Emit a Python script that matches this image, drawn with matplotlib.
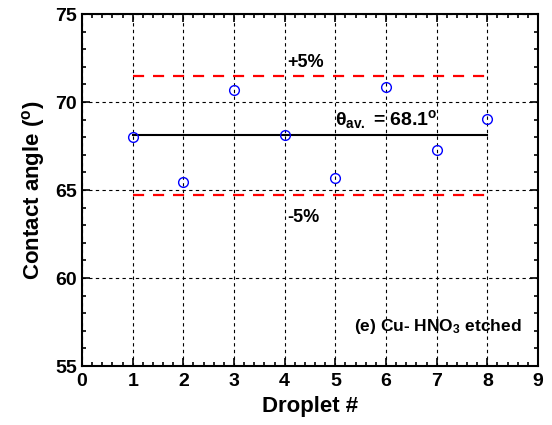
import numpy as np
import matplotlib
matplotlib.use('Agg')
import matplotlib.pyplot as plt
from matplotlib.ticker import MultipleLocator

plt.rcParams['font.family'] = ['Liberation Sans', 'DejaVu Sans']
plt.rcParams['font.weight'] = 'bold'
plt.rcParams['mathtext.fontset'] = 'custom'
plt.rcParams['mathtext.rm'] = 'Liberation Sans:bold'
plt.rcParams['mathtext.bf'] = 'Liberation Sans:bold'
plt.rcParams['mathtext.it'] = 'Liberation Sans:bold'
plt.rcParams['mathtext.default'] = 'bf'

# Contact angle per droplet
droplets = [1, 2, 3, 4, 5, 6, 7, 8]
angles = [68.0, 65.45, 70.68, 68.1, 65.7, 70.85, 67.27, 69.03]
mean_angle = 68.1
upper = 71.5
lower = 64.7

fig = plt.figure(figsize=(5.52, 4.25), dpi=100)
ax = fig.add_axes([0.1486, 0.1388, 0.8260, 0.8282])

ax.plot([1, 8], [upper, upper], color='red', lw=1.6, dashes=(5, 4))
ax.plot([1, 8], [lower, lower], color='red', lw=1.6, dashes=(5, 4))
ax.plot([1, 8], [mean_angle, mean_angle], color='black', lw=1.5)
ax.plot(droplets, angles, 'o', mfc='none', mec='blue', ms=7, mew=1.0)

ax.text(4.05, 72.0, '+5%', fontsize=13, fontweight='bold')
ax.text(4.05, 63.2, '-5%', fontsize=13, fontweight='bold')
ax.text(5.0, 68.7, r'$\theta_{av.}$ = 68.1$^{o}$', fontsize=14, fontweight='bold')
ax.text(8.68, 57.0, r'(e) Cu- HNO$_{3}$ etched', fontsize=12.5, fontweight='bold', ha='right')

ax.set_xlim(0, 9)
ax.set_ylim(55, 75)
ax.xaxis.set_major_locator(MultipleLocator(1))
ax.xaxis.set_minor_locator(MultipleLocator(0.2))
ax.yaxis.set_major_locator(MultipleLocator(5))
ax.yaxis.set_minor_locator(MultipleLocator(1))
ax.tick_params(which='both', direction='in', top=True, right=True, labelsize=14, width=1.2)
ax.tick_params(which='major', length=6)
ax.tick_params(which='minor', length=3)
ax.tick_params(axis='x', pad=5)
for s in ax.spines.values():
    s.set_linewidth(1.5)
ax.grid(True, which='major', color='black', ls=(0, (3, 3)), lw=0.8)

ax.set_xlabel('Droplet #', fontsize=16, fontweight='bold')
ax.set_ylabel(r'Contact angle ($^{o}$)', fontsize=16, fontweight='bold', labelpad=6)

plt.savefig('out.png', dpi=100)
